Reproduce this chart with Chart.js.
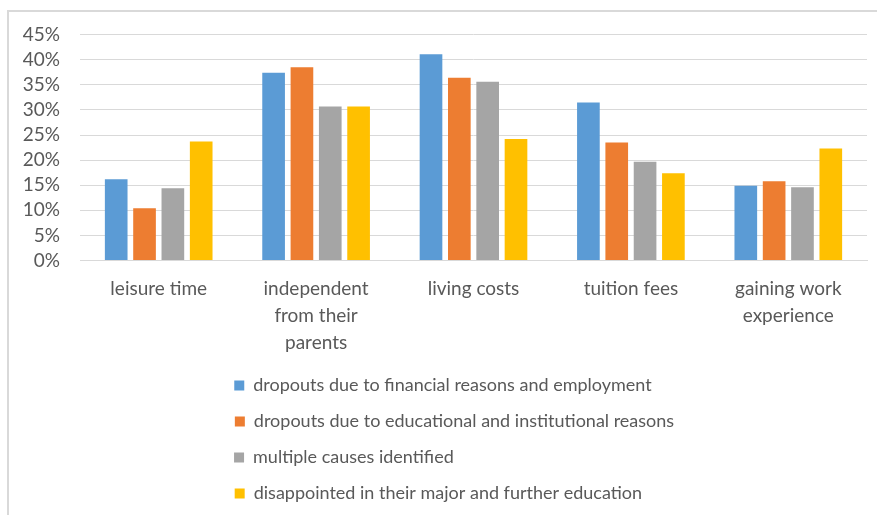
<!DOCTYPE html>
<html>
<head>
<meta charset="utf-8">
<script src="https://cdn.jsdelivr.net/npm/chart.js@4.4.1/dist/chart.umd.min.js"></script>
<style>
  html, body { margin: 0; padding: 0; background: #ffffff; overflow: hidden; width: 877px; height: 515px; }
  #frame { position: absolute; left: 7px; top: 10px; width: 890px; height: 505px;
           border-left: 2px solid #D9D9D9; border-top: 2px solid #D9D9D9; }
  #wrap { position: absolute; left: 0; top: 0; width: 888px; height: 503px; }
</style>
</head>
<body>
<div id="frame"><div id="wrap"><canvas id="c"></canvas></div></div>
<script>
const categories = ['leisure time', ['independent', 'from their', 'parents'], 'living costs', 'tuition fees', ['gaining work', 'experience']];
const seriesNames = [
  'dropouts due to financial reasons and employment',
  'dropouts due to educational and institutional reasons',
  'multiple causes identified',
  'disappointed in their major and further education'
];
const financial    = [16.2, 37.4, 41.1, 31.5, 14.9];
const educational  = [10.4, 38.5, 36.4, 23.5, 15.8];
const multiple     = [14.4, 30.7, 35.6, 19.7, 14.6];
const disappointed = [23.7, 30.7, 24.2, 17.4, 22.3];
const yTicks = [0, 5, 10, 15, 20, 25, 30, 35, 40, 45];
const colors = ['#5B9BD5', '#ED7D31', '#A5A5A5', '#FFC000'];

const TEXT = '#595959';
const FONT = 'Lato';
const legendFont = { family: FONT, size: 18 };

const values = [financial, educational, multiple, disappointed];
const datasets = values.map((v, i) => ({
  label: seriesNames[i],
  data: v,
  backgroundColor: colors[i],
  borderWidth: 0,
  categoryPercentage: 0.72,
  barPercentage: 0.8
}));

new Chart(document.getElementById('c'), {
  type: 'bar',
  data: { labels: categories, datasets },
  options: {
    responsive: true,
    maintainAspectRatio: false,
    animation: false,
    layout: { padding: { top: 22.7, left: 13, right: 10, bottom: 2.5 } },
    scales: {
      x: {
        afterFit: (s) => { s.height = 98; },
        grid: { display: false, drawTicks: false },
        border: { display: true, color: '#D9D9D9', width: 1 },
        ticks: { color: TEXT, font: { family: FONT, size: 19, lineHeight: 1.4 }, padding: 15.5, maxRotation: 0, autoSkip: false }
      },
      y: {
        min: 0, max: 45,
        afterBuildTicks: (s) => { s.ticks = yTicks.map(v => ({ value: v })); },
        afterFit: (s) => { s.width = 58; },
        grid: { color: '#D9D9D9', lineWidth: 1, drawTicks: false },
        border: { display: false },
        ticks: { color: TEXT, font: { family: FONT, size: 19, lineHeight: 0.2 }, padding: 20, autoSkip: false, callback: (v) => v + '%' }
      },
      yPad: {
        position: 'right',
        display: true,
        afterFit: (s) => { s.width = 20; },
        grid: { display: false, drawTicks: false },
        border: { display: false },
        ticks: { display: false }
      }
    },
    plugins: {
      tooltip: { enabled: false },
      legend: {
        position: 'bottom',
        align: 'center',
        labels: {
          color: TEXT,
          font: legendFont,
          boxWidth: 10,
          boxHeight: 10,
          padding: 18,
          generateLabels: (chart) => {
            const items = Chart.defaults.plugins.legend.labels.generateLabels(chart);
            const ctx = chart.ctx;
            ctx.save();
            ctx.font = legendFont.size + 'px ' + legendFont.family;
            const maxW = Math.max(...items.map(it => ctx.measureText(it.text).width));
            items.forEach(it => {
              let guard = 0;
              while (ctx.measureText(it.text).width < maxW - 1 && guard < 400) { it.text += ' '; guard++; }
            });
            ctx.restore();
            return items;
          }
        }
      }
    }
  }
});
</script>
</body>
</html>
